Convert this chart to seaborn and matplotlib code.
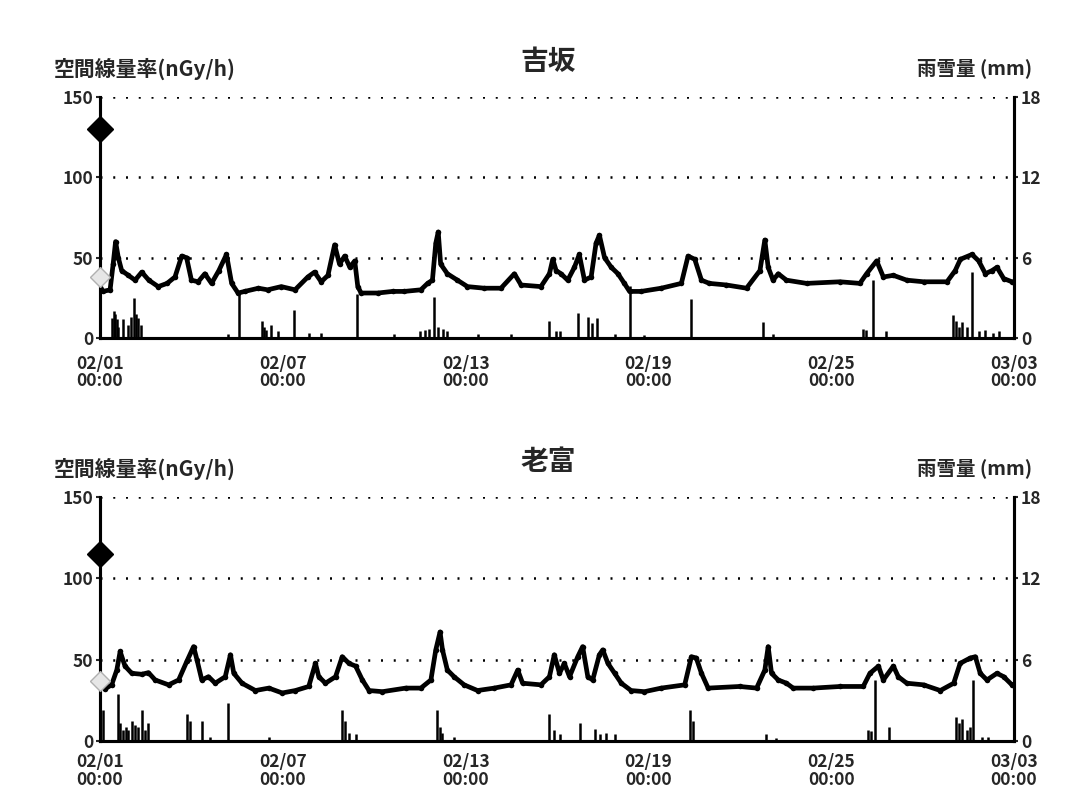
import numpy as np
import pandas as pd
import matplotlib
matplotlib.use('Agg')
import matplotlib.pyplot as plt
import seaborn as sns

sns.set_style('white')
plt.rcParams['font.family'] = ['Noto Sans CJK JP', 'DejaVu Sans']
plt.rcParams['font.weight'] = 'bold'

# --- data ---
station_names = ['吉坂', '老富']
left_label = '空間線量率(nGy/h)'
right_label = '雨雪量 (mm)'
xtick_days = [0, 6, 12, 18, 24, 30]
xtick_labels = ['02/01\n00:00', '02/07\n00:00', '02/13\n00:00',
                '02/19\n00:00', '02/25\n00:00', '03/03\n00:00']
dose_ticks = [0, 50, 100, 150]
rain_ticks = [0, 6, 12, 18]

# 吉坂 dose rate (days from 02/01 00:00, nGy/h)
yoshi_t = [0.0, 0.1, 0.33, 0.43, 0.51, 0.6, 0.71, 0.93, 1.15, 1.37, 1.6, 1.91, 2.2, 2.46,
           2.68, 2.84, 3.0, 3.22, 3.44, 3.66, 3.9, 4.15, 4.32, 4.53, 4.75, 5.2, 5.5, 5.95,
           6.4, 6.82, 7.04, 7.26, 7.48, 7.70, 7.86, 8.03, 8.2, 8.36, 8.46, 8.57, 9.12, 9.6,
           9.99, 10.53, 10.75, 10.91, 11.02, 11.10, 11.18, 11.40, 11.73, 12.06, 12.61, 13.16,
           13.60, 13.82, 14.47, 14.75, 14.86, 14.97, 15.13, 15.35, 15.57, 15.73, 15.90, 16.12,
           16.28, 16.39, 16.56, 16.78, 17.00, 17.21, 17.38, 17.76, 18.42, 19.08, 19.30, 19.52,
           19.74, 20.0, 20.56, 21.22, 21.66, 21.82, 21.93, 22.09, 22.26, 22.53, 23.19, 24.29,
           24.94, 25.16, 25.49, 25.71, 26.04, 26.48, 27.03, 27.80, 28.07, 28.24, 28.62, 28.84,
           29.06, 29.28, 29.44, 29.66, 29.93, 30.0]
yoshi_v = [32, 29, 30, 46, 60, 50, 42, 39, 36, 41, 36, 32, 34, 38,
           51, 50, 36, 35, 40, 34, 42, 52, 34, 28, 29, 31, 30, 32,
           30, 38, 41, 35, 39, 58, 46, 51, 44, 48, 32, 28, 28, 29,
           29, 30, 34, 36, 59, 66, 46, 40, 36, 32, 31, 31,
           40, 33, 32, 40, 49, 42, 40, 36, 44, 52, 36, 38,
           59, 64, 50, 44, 40, 34, 29, 29, 31, 34, 51, 49,
           36, 34, 33, 31, 42, 61, 44, 36, 40, 36, 34, 35,
           34, 40, 48, 38, 39, 36, 35, 35, 42, 49, 52, 48,
           40, 42, 44, 37, 35, 35]
yoshi_rain_t = [0.40, 0.45, 0.50, 0.55, 0.60, 0.75, 0.93, 1.02, 1.10, 1.18, 1.26, 1.34,
                4.2, 4.57, 5.30, 5.38, 5.46, 5.60, 5.85, 6.36, 6.85, 7.25, 8.44, 9.65,
                10.5, 10.65, 10.8, 10.96, 11.1, 11.25, 11.4, 12.4, 13.5, 14.75, 14.95, 15.1,
                15.68, 16.0, 16.15, 16.3, 16.9, 17.38, 17.85, 19.4,
                21.77, 22.1, 23.85, 25.05, 25.15, 25.38, 25.8, 28.0, 28.1, 28.2, 28.3, 28.45,
                28.62, 28.85, 29.05, 29.3, 29.5]
yoshi_rain_mm = [1.5, 2.0, 1.8, 1.4, 0.8, 1.4, 1.0, 1.6, 3.0, 1.8, 1.5, 1.0,
                 0.3, 3.3, 1.3, 0.8, 0.6, 1.0, 0.5, 2.1, 0.4, 0.4, 3.3, 0.3,
                 0.5, 0.6, 0.7, 3.1, 0.8, 0.7, 0.5, 0.3, 0.3, 1.3, 0.5, 0.5,
                 1.9, 1.6, 1.1, 1.5, 0.3, 3.9, 0.2, 2.9,
                 1.2, 0.3, 0.1, 0.7, 0.6, 4.3, 0.5, 1.7, 1.3, 0.8, 1.2, 0.8,
                 4.9, 0.5, 0.6, 0.4, 0.5]
yoshi_marker = 130
yoshi_prev = 38

# 老富 dose rate
oitomi_t = [0.0, 0.16, 0.38, 0.55, 0.66, 0.82, 1.04, 1.37, 1.59, 1.81, 2.25, 2.58, 2.85, 3.07,
            3.18, 3.34, 3.56, 3.78, 4.11, 4.28, 4.39, 4.66, 5.10, 5.54, 5.98, 6.41, 6.85, 7.07,
            7.18, 7.40, 7.73, 7.95, 8.17, 8.39, 8.61, 8.83, 9.27, 10.03, 10.53, 10.86, 11.02,
            11.16, 11.24, 11.40, 11.62, 11.95, 12.39, 12.94, 13.49, 13.71, 13.87, 14.47, 14.75,
            14.91, 15.08, 15.24, 15.41, 15.68, 15.84, 16.01, 16.17, 16.39, 16.50, 16.67, 16.89,
            17.11, 17.43, 17.87, 18.42, 19.19, 19.41, 19.57, 19.74, 19.96, 20.99, 21.55, 21.82,
            21.93, 22.04, 22.26, 22.53, 22.75, 23.41, 24.30, 25.05, 25.27, 25.55, 25.71, 26.04,
            26.20, 26.48, 27.03, 27.58, 28.02, 28.23, 28.56, 28.73, 28.89, 29.11, 29.44, 29.66,
            29.93, 30.0]
oitomi_v = [36, 32, 34.5, 43.6, 55, 46, 41.6, 41, 42, 37.5, 34.5, 37.5, 49, 58,
            50, 37.5, 39.5, 35.5, 39.5, 53, 41.6, 35.5, 31, 32.5, 29.5, 31, 33.5, 47.7,
            39.5, 35.5, 39.5, 51.8, 47.7, 46, 37.5, 31, 30.3, 32.5, 32.5, 37.5, 56,
            67, 56, 43.6, 39.5, 34.5, 31, 32.5, 34.5, 43.6, 35.5, 34.5, 39.5,
            53, 41.6, 47.7, 39.5, 51.8, 58, 39.5, 37.5, 53, 56, 47.7, 41.6,
            35.5, 31, 30.3, 32.5, 34.5, 51.8, 51, 41.6, 32.5, 33.5, 32.5, 43.6,
            58, 41.6, 37.5, 35.5, 32.5, 32.5, 33.5, 33.5, 41.6, 46, 37.5, 46,
            39.5, 35.5, 34.5, 31, 35.5, 47.7, 51, 51.8, 41.6, 37.5, 41.6, 39.5,
            34.5, 34.5]
oitomi_rain_t = [0.11, 0.58, 0.66, 0.75, 0.85, 0.93, 1.04, 1.15, 1.25, 1.37, 1.48, 1.59,
                 2.85, 2.95, 3.35, 3.6, 4.2, 5.55, 7.95, 8.05, 8.17, 8.39,
                 11.07, 11.17, 11.24, 11.62, 14.75, 14.91, 15.1, 15.74, 16.23, 16.4, 16.6, 16.89,
                 19.35, 19.45, 21.87, 22.2, 25.2, 25.3, 25.44, 25.88,
                 28.1, 28.2, 28.3, 28.45, 28.56, 28.65, 28.95, 29.15]
oitomi_rain_mm = [2.3, 3.5, 1.3, 0.8, 1.0, 0.8, 1.5, 1.2, 1.0, 2.3, 0.8, 1.3,
                  2.0, 1.5, 1.5, 0.3, 2.8, 0.3, 2.3, 1.5, 0.6, 0.5,
                  2.3, 1.0, 0.6, 0.3, 2.0, 0.8, 0.5, 1.3, 0.9, 0.5, 0.6, 0.5,
                  2.3, 1.5, 0.5, 0.2, 0.8, 0.7, 4.5, 1.0,
                  1.8, 1.3, 1.6, 0.8, 1.0, 4.5, 0.3, 0.3]
oitomi_marker = 115
oitomi_prev = 37

panels = [
    (station_names[0], yoshi_t, yoshi_v, yoshi_rain_t, yoshi_rain_mm, yoshi_marker, yoshi_prev),
    (station_names[1], oitomi_t, oitomi_v, oitomi_rain_t, oitomi_rain_mm, oitomi_marker, oitomi_prev),
]

fig = plt.figure(figsize=(10.85, 7.94), dpi=100)
ax_rects = [[0.0922, 0.5743, 0.8424, 0.3035], [0.0922, 0.0668, 0.8424, 0.3073]]
xpads = [9, 6]

for rect, xpad, (name, t, v, rt, rmm, mk, prev) in zip(ax_rects, xpads, panels):
    ax = fig.add_axes(rect)
    ax2 = ax.twinx()

    # rainfall bars on the right axis
    ax2.vlines(rt, 0, rmm, color='black', lw=1.8, zorder=2)
    ax2.set_ylim(0, 18)
    ax2.set_yticks(rain_ticks)
    ax2.tick_params(axis='y', labelsize=12.5, length=3, width=1.5, pad=2)

    df = pd.DataFrame({'day': t, 'dose': v})
    sns.lineplot(data=df, x='day', y='dose', ax=ax, color='black', lw=3.4,
                 marker='o', markersize=4, markeredgewidth=0, zorder=3)
    ax.plot([0], [prev], marker='D', ms=10, mfc='#e6e6e6', mec='#b0b0b0',
            ls='none', clip_on=False, zorder=4)
    ax.plot([0], [mk], marker='D', ms=13, color='black', ls='none',
            clip_on=False, zorder=5)

    for g in dose_ticks[1:]:
        ax.axhline(g, color='black', lw=1.8, ls=(0, (0.8, 4.3)), zorder=1)

    ax.set_xlim(0, 30)
    ax.set_ylim(0, 150)
    ax.set_yticks(dose_ticks)
    ax.set_xticks(xtick_days)
    ax.set_xticklabels(xtick_labels, fontsize=12.5, linespacing=0.95)
    ax.tick_params(axis='y', labelsize=12.5, length=3, width=1.5, pad=2)
    ax.tick_params(axis='x', length=3, width=1.5, pad=xpad)
    ax.set_xlabel('')
    ax.set_ylabel('')

    for a in (ax, ax2):
        a.spines['top'].set_visible(False)
        for s in ('left', 'right', 'bottom'):
            a.spines[s].set_linewidth(2.2)
            a.spines[s].set_color('black')
    ax.set_zorder(ax2.get_zorder() + 1)
    ax.patch.set_visible(False)

    top = rect[1] + rect[3]
    fig.text(rect[0] + rect[2] / 2 - 0.008, top + 0.044, name, ha='center', va='center',
             fontsize=20, fontweight='bold')
    fig.text(0.05, top + 0.036, left_label, ha='left', va='center', fontsize=15, fontweight='bold')
    fig.text(0.951, top + 0.036, right_label, ha='right', va='center', fontsize=14, fontweight='bold')

plt.savefig('out.png', dpi=100)
